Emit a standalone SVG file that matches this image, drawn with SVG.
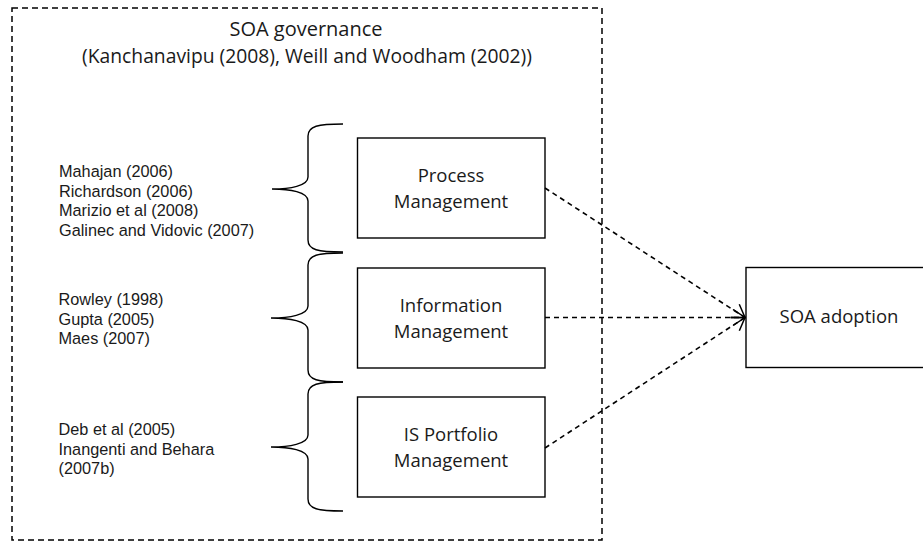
<svg xmlns="http://www.w3.org/2000/svg" width="923" height="542" viewBox="0 0 923 542">
<defs>
<style>
.frame{fill:none;stroke:#000;stroke-width:1.5;stroke-dasharray:6 4}
.box{fill:#fff;stroke:#000;stroke-width:1.4}
.brace{fill:none;stroke:#000;stroke-width:1.4}
.conn{fill:none;stroke:#000;stroke-width:1.6;stroke-dasharray:5 4}
.ref{font-family:"Liberation Sans",Arial,sans-serif;font-size:16.3px;fill:#1a1a1a}
.lbl{font-family:"Open Sans","Noto Sans",sans-serif;font-size:18.5px;fill:#1a1a1a;text-anchor:middle}
.ttl{font-size:20px}
.sub{font-size:19.3px}
</style>
<marker id="arr" viewBox="0 0 14 18" refX="13" refY="9" markerWidth="14" markerHeight="18" markerUnits="userSpaceOnUse" orient="auto">
<path d="M1,1 L13,9 L1,17" fill="none" stroke="#000" stroke-width="1.5"/>
</marker>
</defs>
<rect class="frame" x="12" y="8" width="590" height="532"/>
<g id="title">
<text class="lbl ttl" x="306" y="36">SOA governance</text>
<text class="lbl sub" x="307" y="63">(Kanchanavipu (2008), Weill and Woodham (2002))</text>
</g>
<g id="refs-process">
<text class="ref" x="59" y="177">Mahajan (2006)</text>
<text class="ref" x="59" y="196.5">Richardson (2006)</text>
<text class="ref" x="59" y="216">Marizio et al (2008)</text>
<text class="ref" x="59" y="235.5">Galinec and Vidovic (2007)</text>
</g>
<g id="refs-information">
<text class="ref" x="58.5" y="305">Rowley (1998)</text>
<text class="ref" x="58.5" y="324.5">Gupta (2005)</text>
<text class="ref" x="58.5" y="344">Maes (2007)</text>
</g>
<g id="refs-portfolio">
<text class="ref" x="58.5" y="435">Deb et al (2005)</text>
<text class="ref" x="58.5" y="454.5">Inangenti and Behara</text>
<text class="ref" x="58.5" y="474">(2007b)</text>
</g>
<g id="braces">
<path class="brace" d="M343,124 C318,124 308,126 308,136 L308,177 C308,186 290,189 272,189 C290,189 308,192 308,201 L308,240 C308,250 318,252 343,252"/>
<path class="brace" d="M343,253 C318,253 308,255 308,265 L308,306 C308,315 289,318 271,318 C289,318 308,321 308,330 L308,370 C308,380 318,382 343,382"/>
<path class="brace" d="M343,382 C318,382 308,384 308,394 L308,435 C308,444 289,447 271,447 C289,447 308,450 308,459 L308,499 C308,509 318,511 343,511"/>
</g>
<g id="process-management">
<rect class="box" x="357.5" y="138" width="187.5" height="100"/>
<text class="lbl" x="451" y="181.5">Process</text>
<text class="lbl" x="451" y="208">Management</text>
</g>
<g id="information-management">
<rect class="box" x="357.5" y="268" width="187.5" height="100"/>
<text class="lbl" x="451" y="311.5">Information</text>
<text class="lbl" x="451" y="338">Management</text>
</g>
<g id="is-portfolio-management">
<rect class="box" x="357.5" y="397" width="187.5" height="100"/>
<text class="lbl" x="451" y="440.5">IS Portfolio</text>
<text class="lbl" x="451" y="467">Management</text>
</g>
<g id="soa-adoption">
<rect class="box" x="746" y="267.5" width="180" height="100"/>
<text class="lbl" x="839" y="323">SOA adoption</text>
</g>
<g id="connectors">
<line class="conn" x1="545" y1="188" x2="745" y2="317.5" marker-end="url(#arr)"/>
<line class="conn" x1="545" y1="317.5" x2="745" y2="317.5" marker-end="url(#arr)"/>
<line class="conn" x1="545" y1="448" x2="745" y2="317.5" marker-end="url(#arr)"/>
</g>
</svg>
